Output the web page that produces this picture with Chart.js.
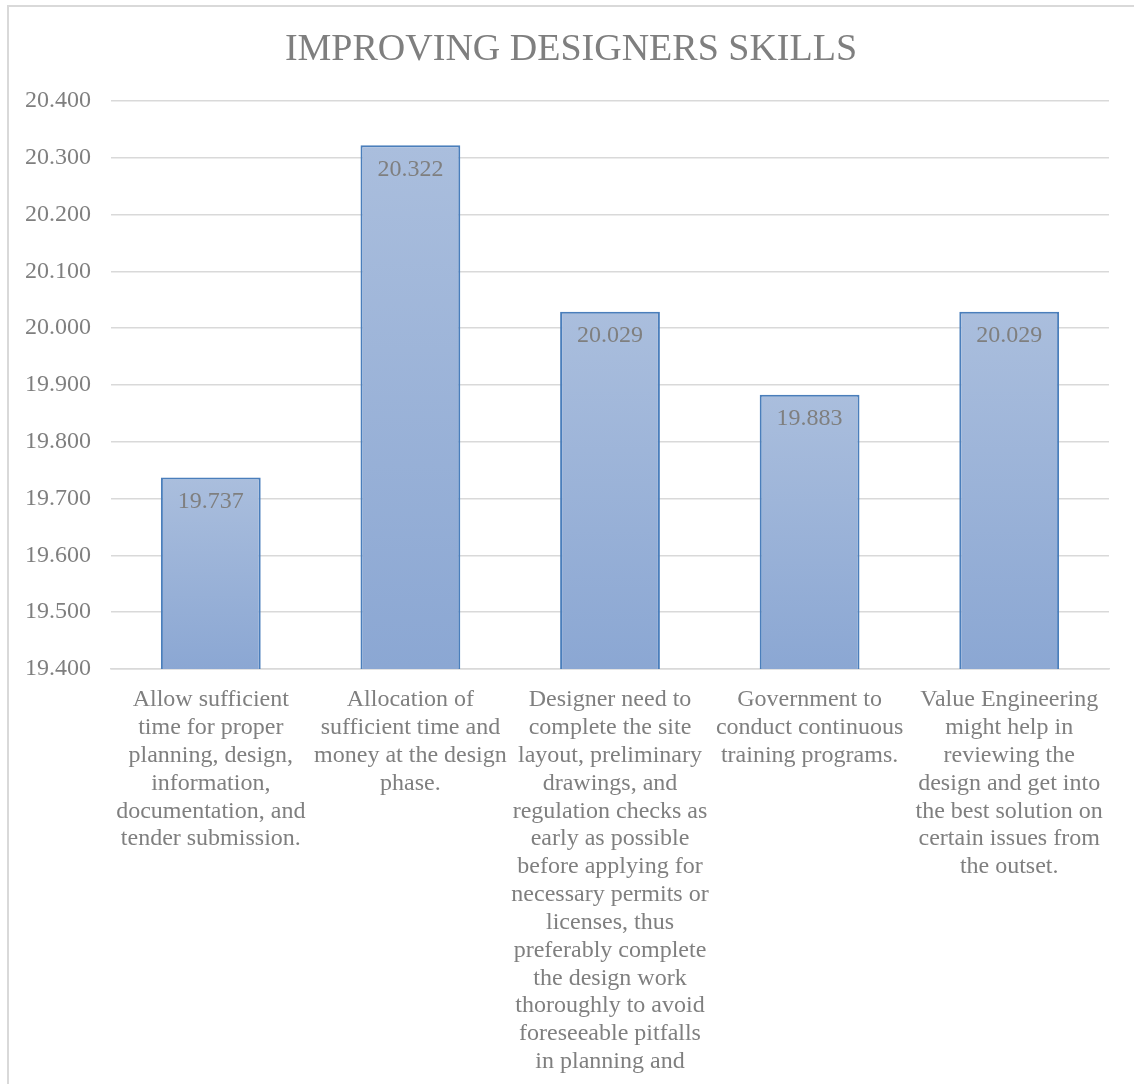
<!DOCTYPE html>
<html>
<head>
<meta charset="utf-8">
<title>Improving Designers Skills</title>
<script src="https://cdn.jsdelivr.net/npm/chart.js@4.4.1/dist/chart.umd.min.js"></script>
<style>
  html, body { margin: 0; padding: 0; background: #fff; }
  canvas { display: block; }
</style>
</head>
<body>
<canvas class="chart" width="1134" height="1084"></canvas>
<script>
// categories (already broken into lines the way they wrap under each bar)
const measureLabels = [
    ['Allow sufficient', 'time for proper', 'planning, design,', 'information,', 'documentation, and', 'tender submission.'],
    ['Allocation of', 'sufficient time and', 'money at the design', 'phase.'],
    ['Designer need to', 'complete the site', 'layout, preliminary', 'drawings, and', 'regulation checks as',
     'early as possible', 'before applying for', 'necessary permits or', 'licenses, thus',
     'preferably complete', 'the design work', 'thoroughly to avoid', 'foreseeable pitfalls', 'in planning and'],
    ['Government to', 'conduct continuous', 'training programs.'],
    ['Value Engineering', 'might help in', 'reviewing the', 'design and get into', 'the best solution on',
     'certain issues from', 'the outset.']
];

// score for each measure
const measureScores = [19.737, 20.322, 20.029, 19.883, 20.029];

// value axis range
const axisMin = 19.4;
const axisMax = 20.4;
const axisStep = 0.1;

const chartTitle = 'IMPROVING DESIGNERS SKILLS';

const textGray = '#7f7f7f';
const gridGray = '#d9d9d9';
const serif = "'Liberation Serif', 'Times New Roman', serif";
const frameLeft = 8;

// light-to-dark blue fill, one gradient per bar
function barGradient(context) {
    const chart = context.chart;
    const yScale = chart.scales.y;
    if (!yScale || context.raw === undefined) return '#9db3d9';
    const top = yScale.getPixelForValue(context.raw);
    const bottom = yScale.getPixelForValue(axisMin);
    if (!Number.isFinite(top) || !Number.isFinite(bottom) || top === bottom) return '#9db3d9';
    const g = chart.ctx.createLinearGradient(0, top, 0, bottom);
    g.addColorStop(0, '#aabedd');
    g.addColorStop(1, '#8ba7d3');
    return g;
}

// value printed inside the top of each bar
const valueLabels = {
    id: 'valueLabels',
    afterDatasetsDraw(chart) {
        const ctx = chart.ctx;
        const meta = chart.getDatasetMeta(0);
        ctx.save();
        ctx.font = `24px ${serif}`;
        ctx.fillStyle = textGray;
        ctx.textAlign = 'center';
        ctx.textBaseline = 'middle';
        meta.data.forEach((bar, i) => {
            ctx.fillText(measureScores[i].toFixed(3), bar.x, bar.y + 24);
        });
        ctx.restore();
    }
};

// thin gray frame round the chart, with the title centred inside it
const chartFrame = {
    id: 'chartFrame',
    beforeDraw(chart) {
        const ctx = chart.ctx;
        ctx.save();
        ctx.strokeStyle = gridGray;
        ctx.lineWidth = 2;
        ctx.beginPath();
        ctx.moveTo(frameLeft, chart.height);
        ctx.lineTo(frameLeft, 6);
        ctx.lineTo(chart.width, 6);
        ctx.stroke();

        ctx.font = `38px ${serif}`;
        ctx.fillStyle = textGray;
        ctx.textAlign = 'center';
        ctx.textBaseline = 'middle';
        ctx.fillText(chartTitle, (frameLeft + chart.width) / 2, 50);
        ctx.restore();
    }
};

const ctx = document.querySelector('.chart');

const displayedChart = new Chart(ctx, {
    type: 'bar',
    data: {
        labels: measureLabels,
        datasets: [{
            data: measureScores,
            backgroundColor: barGradient,
            borderColor: '#4a7ebb',
            borderWidth: 2,
            borderSkipped: false,
            categoryPercentage: 1,
            barPercentage: 0.5
        }]
    },
    options: {
        responsive: false,
        animation: false,
        layout: {
            padding: { top: 101, right: 25, bottom: 0, left: 0 }
        },
        plugins: {
            legend: { display: false },
            tooltip: { enabled: false },
            title: { display: false }
        },
        scales: {
            y: {
                min: axisMin,
                max: axisMax,
                border: { display: false },
                grid: { color: gridGray, lineWidth: 1.5, drawTicks: false },
                ticks: {
                    stepSize: axisStep,
                    padding: 20,
                    color: textGray,
                    font: { family: serif, size: 24 },
                    callback: value => Number(value).toFixed(3)
                },
                afterFit: scale => { scale.width = 111; }
            },
            x: {
                grid: { display: false },
                border: { display: true, color: gridGray, width: 1.5 },
                ticks: {
                    autoSkip: false,
                    maxRotation: 0,
                    minRotation: 0,
                    padding: 9,
                    color: textGray,
                    font: { family: serif, size: 24, lineHeight: 1.16 }
                },
                afterFit: scale => { scale.height = 415; }
            }
        }
    },
    plugins: [chartFrame, valueLabels]
});
</script>
</body>
</html>
